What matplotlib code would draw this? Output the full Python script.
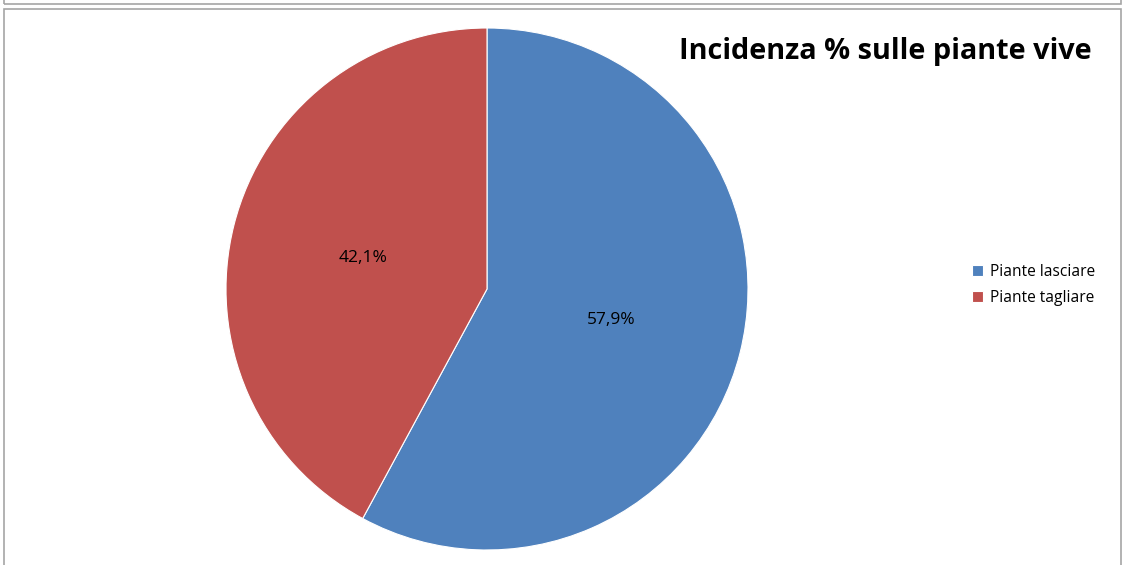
"""Pie chart: incidenza % sulle piante vive."""
import matplotlib.pyplot as plt
from matplotlib.patches import Rectangle

labels = ["Piante lasciare", "Piante tagliare"]
values = [57.9, 42.1]
colors = ["#4f81bd", "#c0504d"]

W, H = 1125, 565
fig = plt.figure(figsize=(W / 100, H / 100), dpi=100)

# Frames (pixel coords, origin top-left).
def frame(x0, y0, x1, y1):
    fig.patches.append(Rectangle((x0 / W, 1 - y1 / H), (x1 - x0) / W,
                                 (y1 - y0) / H, transform=fig.transFigure,
                                 fill=False, edgecolor="#a6a6a6", lw=1.2))

frame(4, -20, 1121, 3.5)
frame(4, 8.5, 1121, 600)

cx, cy, r = 487, 289, 261
ax = fig.add_axes([(cx - r) / W, 1 - (cy + r) / H, 2 * r / W, 2 * r / H])
wedges, _, autotexts = ax.pie(
    values, colors=colors, startangle=90, counterclock=False,
    autopct=lambda p: f"{p:.1f}%".replace(".", ","), pctdistance=0.49,
    wedgeprops=dict(edgecolor="white", linewidth=0.8),
    textprops=dict(fontsize=12.5, family="Open Sans"))
ax.set_xlim(-1, 1)
ax.set_ylim(-1, 1)
ax.set_aspect("equal")
ax.axis("off")

fig.text(1092 / W, 1 - 51 / H, "Incidenza % sulle piante vive",
         ha="right", va="center", fontsize=20.8, fontweight="bold",
         family="Open Sans")

fig.legend(wedges, labels, loc="center left",
           bbox_to_anchor=(958 / W, 1 - 285 / H), frameon=False,
           handlelength=0.7, handleheight=0.7, handletextpad=0.45,
           labelspacing=0.6, prop=dict(family="Open Sans", size=11.2))

fig.savefig("out.png", dpi=100)
